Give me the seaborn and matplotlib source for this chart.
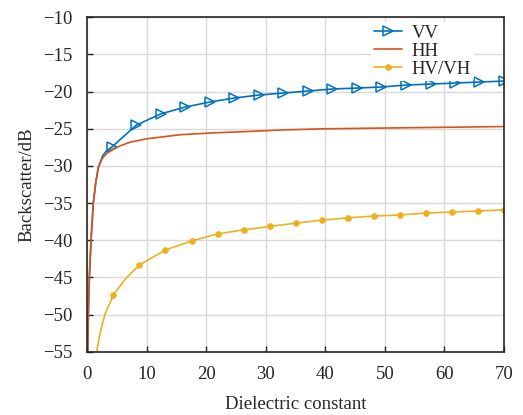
import numpy as np
import pandas as pd
import matplotlib
matplotlib.use("Agg")
import matplotlib.pyplot as plt
import seaborn as sns

# ---- data ----
vv_x = [0.05, 0.17, 0.34, 0.62, 1.0, 1.4, 1.85, 2.6, 3.2,
        4.12, 6.0, 8.24, 12.35, 16.47, 20.59, 24.71, 28.82, 32.94, 37.06,
        41.18, 45.29, 49.41, 53.53, 57.65, 61.76, 65.88, 70.0]
vv_y = [-55, -50, -45, -40, -35, -32.3, -30.2, -28.6, -28.0,
        -27.45, -26.1, -24.5, -23.0, -22.07, -21.4, -20.86, -20.46, -20.19, -19.92,
        -19.65, -19.52, -19.38, -19.12, -18.98, -18.85, -18.71, -18.58]
vv_marks = list(range(9, 27))
vv_marks.remove(10)

hh_x = [0.05, 0.17, 0.34, 0.62, 1.0, 1.4, 1.85, 2.5, 3.3, 4.3, 5.5, 7.2,
        10, 15.6, 21.2, 26.8, 33, 40, 50, 60, 70]
hh_y = [-55, -50, -45, -40, -35, -32.3, -30.2, -29.0, -28.3, -27.8, -27.3, -26.8,
        -26.35, -25.8, -25.55, -25.37, -25.15, -25.0, -24.9, -24.8, -24.7]

hv_x = [1.57, 2.25, 3.0, 4.375, 6.5, 8.75, 13.125, 17.5, 21.875, 26.25, 30.625,
        35.0, 39.375, 43.75, 48.125, 52.5, 56.875, 61.25, 65.625, 70.0]
hv_y = [-55, -52.1, -49.9, -47.37, -45.1, -43.33, -41.3, -40.1, -39.15, -38.6, -38.15,
        -37.7, -37.3, -37.0, -36.74, -36.6, -36.34, -36.2, -36.07, -35.9]
hv_marks = [i for i in range(3, 20) if i != 4]

x_ticks = [0, 10, 20, 30, 40, 50, 60, 70]
y_ticks = [-55, -50, -45, -40, -35, -30, -25, -20, -15, -10]

sns.set_theme(style="whitegrid")
plt.rcParams['font.family'] = ['Liberation Serif', 'DejaVu Serif']
plt.rcParams['axes.unicode_minus'] = True

fig = plt.figure(figsize=(5.23, 4.15), dpi=100)
ax = fig.add_axes([0.167, 0.1525, 0.7967, 0.8058])

c_vv, c_hh, c_hv = "#0072BD", "#D95319", "#EDB120"

sns.lineplot(x=vv_x, y=vv_y, ax=ax, color=c_vv, lw=1.2, marker='>',
             markevery=vv_marks, markersize=6.5, markerfacecolor='none',
             markeredgecolor=c_vv, markeredgewidth=1.1, label='VV', sort=False)
sns.lineplot(x=hh_x, y=hh_y, ax=ax, color=c_hh, lw=1.2, label='HH', sort=False)
sns.lineplot(x=hv_x, y=hv_y, ax=ax, color=c_hv, lw=1.2, marker='o',
             markevery=hv_marks, markersize=4, markerfacecolor=c_hv,
             markeredgecolor=c_hv, label='HV/VH', sort=False)

ax.set_xlim(0, 70)
ax.set_ylim(-55, -10)
ax.set_xticks(x_ticks)
ax.set_yticks(y_ticks)
ax.set_xticklabels([str(t) for t in x_ticks])
ax.set_yticklabels([f"\u2212{abs(t)}" for t in y_ticks])
ax.tick_params(axis='both', direction='in', length=4, width=1, colors='#262626',
               labelsize=13.5, labelcolor='#262626')
ax.tick_params(axis='y', pad=11)
ax.tick_params(axis='x', pad=10.5)
ax.tick_params(axis='both', which='both', left=True, bottom=True, top=False, right=False)
ax.grid(True, color='#d9d9d9', lw=1)
for s in ax.spines.values():
    s.set_visible(True)
    s.set_color('#262626')
    s.set_linewidth(1.2)

ax.set_xlabel('Dielectric constant', fontsize=13.5, color='#262626', labelpad=9)
ax.set_ylabel('Backscatter/dB', fontsize=13.5, color='#262626', labelpad=5)

leg = ax.legend(loc='upper right', bbox_to_anchor=(0.928, 0.986), frameon=True,
                fontsize=13.5, handlelength=1.5, handletextpad=0.55,
                labelspacing=0.05, borderpad=0.15, borderaxespad=0.0)
leg.get_frame().set_edgecolor('none')
leg.get_frame().set_facecolor('white')
leg.get_frame().set_alpha(1)
for t in leg.get_texts():
    t.set_color('#262626')

fig.savefig('out.png', dpi=100)
